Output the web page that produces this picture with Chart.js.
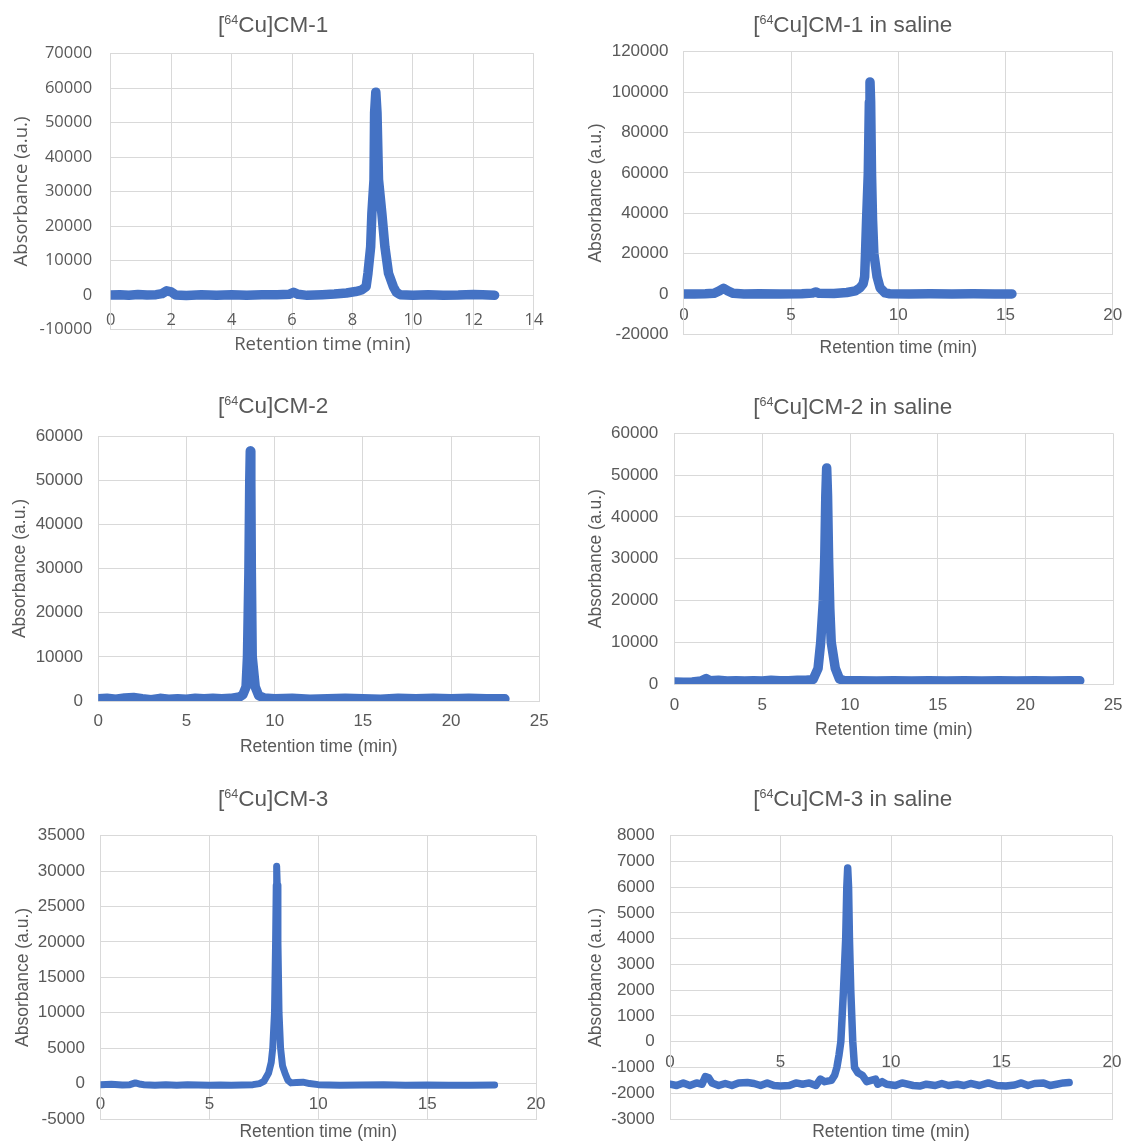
<!DOCTYPE html>
<html lang="en">
<head>
<meta charset="UTF-8">
<title>[64Cu]CM radio-HPLC traces</title>
<script src="https://cdn.jsdelivr.net/npm/chart.js"></script>
<style>
  body { margin: 0; background: #fff; width: 1125px; height: 1145px; position: relative; overflow: hidden; }
  canvas { position: absolute; }
  .title { position: absolute; width: 400px; height: 26px; line-height: 26px; text-align: center;
           font-family: 'Liberation Sans', Arial, sans-serif; font-size: 22.5px; color: #595959; white-space: nowrap; }
  .title sup { font-size: 12.5px; vertical-align: 8px; line-height: 0; }
</style>
</head>
<body>
<canvas id="cm1"></canvas>
<canvas id="cm1s"></canvas>
<canvas id="cm2"></canvas>
<canvas id="cm2s"></canvas>
<canvas id="cm3"></canvas>
<canvas id="cm3s"></canvas>
<script>
// traces: [retention time (min), absorbance (a.u.)]
const cm1Trace = [
  [0, 0], [0.3, 100], [0.6, -100], [0.9, 150], [1.2, 0], [1.5, 100], [1.7, 400], [1.85, 1200], [2.0, 900],
  [2.15, 0], [2.5, -150], [3.0, 50], [3.5, -100], [4.0, 100], [4.5, -50], [5.0, 50], [5.5, 100], [5.9, 200],
  [6.05, 800], [6.2, 200], [6.5, -100], [7.0, 100], [7.4, 300], [7.8, 600], [8.1, 1000], [8.3, 1450],
  [8.45, 2400], [8.51, 6300], [8.6, 14000], [8.64, 23700], [8.71, 33400], [8.73, 52800], [8.77, 58800],
  [8.81, 52800], [8.86, 33400], [8.97, 23700], [9.07, 14000], [9.19, 6300], [9.35, 2400], [9.45, 800],
  [9.57, 100], [10.0, -100], [10.5, 50], [11.0, -50], [11.5, 0], [12.0, 150], [12.3, 100], [12.7, -50]
];
const cm1SalineTrace = [
  [0, 0], [0.5, 0], [1.0, 100], [1.4, 300], [1.65, 1500], [1.85, 2800], [2.05, 1500], [2.3, 300], [2.8, 0],
  [3.5, 100], [4.5, 0], [5.5, 100], [6.0, 400], [6.15, 1000], [6.3, 300], [7.0, 200], [7.6, 700], [8.0, 1500],
  [8.21, 3000], [8.36, 5000], [8.43, 8500], [8.47, 20000], [8.52, 36500], [8.6, 60000], [8.65, 95000],
  [8.68, 105000], [8.71, 95000], [8.75, 60000], [8.8, 36500], [8.86, 20000], [9.01, 8500], [9.15, 3000],
  [9.38, 500], [9.6, 100], [10.5, 0], [11.5, 100], [12.5, 0], [13.5, 100], [14.5, 0], [15.3, 0]
];
const cm2Trace = [
  [0, 500], [0.5, 600], [1.0, 400], [1.5, 700], [2.0, 800], [2.5, 500], [3.0, 300], [3.5, 600], [4.0, 400],
  [4.5, 500], [5.0, 400], [5.5, 600], [6.0, 500], [6.5, 600], [7.0, 500], [7.5, 600], [8.0, 900], [8.2, 1400],
  [8.38, 3200], [8.46, 10000], [8.54, 29000], [8.59, 50000], [8.62, 56600], [8.65, 50000], [8.68, 29000],
  [8.73, 10000], [8.9, 3200], [9.1, 1200], [9.4, 700], [10, 500], [11, 600], [12, 400], [13, 500], [14, 600],
  [15, 500], [16, 400], [17, 600], [18, 500], [19, 600], [20, 500], [21, 600], [22, 500], [23.05, 500]
];
const cm2SalineTrace = [
  [0, 500], [0.5, 400], [1.0, 500], [1.5, 700], [1.8, 1300], [2.0, 800], [2.5, 900], [3.0, 700], [3.5, 800],
  [4.0, 700], [4.5, 800], [5.0, 700], [5.5, 900], [6.0, 800], [6.5, 800], [7.0, 900], [7.5, 900], [7.9, 1100],
  [8.18, 3750], [8.33, 10000], [8.48, 20000], [8.56, 30000], [8.62, 45000], [8.67, 51700], [8.72, 45000],
  [8.78, 30000], [8.85, 18000], [8.93, 10000], [9.16, 3750], [9.4, 1200], [9.7, 800], [10.5, 800], [11.5, 700],
  [12.5, 800], [13.5, 700], [14.5, 800], [15.5, 700], [16.5, 800], [17.5, 700], [18.5, 800], [19.5, 700],
  [20.5, 800], [21.5, 700], [22.5, 800], [23.1, 800]
];
const cm3Trace = [
  [0, -150], [0.5, -100], [1.0, -200], [1.35, -150], [1.6, 100], [1.85, -100], [2.0, -150], [2.5, -250],
  [3.0, -150], [3.5, -250], [4.0, -150], [4.5, -200], [5.0, -250], [5.5, -200], [6.0, -250], [6.5, -200],
  [7.0, -150], [7.3, 0], [7.5, 300], [7.72, 1500], [7.84, 3000], [7.91, 5000], [7.99, 10000], [8.04, 20000],
  [8.07, 28000], [8.09, 30700], [8.12, 28000], [8.15, 20000], [8.2, 10000], [8.27, 5000], [8.36, 2500],
  [8.47, 1500], [8.6, 500], [8.75, 100], [9.0, 150], [9.3, 200], [9.6, 0], [10.0, -150], [10.5, -200],
  [11.0, -250], [12.0, -200], [13.0, -150], [14.0, -250], [15.0, -200], [16.0, -250], [17.0, -250], [18.1, -200]
];
const cm3SalineTrace = [
  [0, -1650], [0.3, -1700], [0.6, -1600], [0.9, -1700], [1.2, -1600], [1.45, -1650], [1.6, -1350], [1.75, -1400],
  [1.9, -1600], [2.2, -1700], [2.5, -1620], [2.8, -1700], [3.1, -1600], [3.5, -1580], [3.8, -1620], [4.1, -1700],
  [4.4, -1600], [4.7, -1700], [5.0, -1720], [5.4, -1700], [5.7, -1600], [6.0, -1650], [6.3, -1600], [6.6, -1700],
  [6.8, -1450], [7.0, -1550], [7.3, -1500], [7.45, -1300], [7.55, -1000], [7.65, -500], [7.73, 0], [7.85, 2000],
  [7.95, 4000], [8.0, 6000], [8.04, 6750], [8.08, 6000], [8.12, 4000], [8.18, 2000], [8.27, 0], [8.35, -1000],
  [8.5, -1200], [8.7, -1300], [8.9, -1550], [9.1, -1500], [9.3, -1450], [9.4, -1650], [9.6, -1550], [9.8, -1650],
  [10.2, -1700], [10.5, -1600], [11.0, -1700], [11.3, -1720], [11.6, -1650], [12.0, -1700], [12.3, -1620],
  [12.6, -1700], [13.0, -1650], [13.3, -1700], [13.6, -1620], [14.0, -1700], [14.4, -1600], [14.8, -1700],
  [15.2, -1720], [15.6, -1680], [15.9, -1600], [16.2, -1700], [16.5, -1620], [16.9, -1600], [17.2, -1700],
  [17.5, -1650], [17.8, -1600], [18.06, -1580]
];

// axis ticks
const cm1TimeTicks = [0, 2, 4, 6, 8, 10, 12, 14];
const cm1AbsTicks = [-10000, 0, 10000, 20000, 30000, 40000, 50000, 60000, 70000];
const cm1SalineTimeTicks = [0, 5, 10, 15, 20];
const cm1SalineAbsTicks = [-20000, 0, 20000, 40000, 60000, 80000, 100000, 120000];
const cm2TimeTicks = [0, 5, 10, 15, 20, 25];
const cm2AbsTicks = [0, 10000, 20000, 30000, 40000, 50000, 60000];
const cm3TimeTicks = [0, 5, 10, 15, 20];
const cm3AbsTicks = [-5000, 0, 5000, 10000, 15000, 20000, 25000, 30000, 35000];
const cm3SalineAbsTicks = [-3000, -2000, -1000, 0, 1000, 2000, 3000, 4000, 5000, 6000, 7000, 8000];

const BLUE = '#4472C4';
const GRID = '#d9d9d9';
const TEXT = '#595959';
const ARIAL = "'Liberation Sans', Arial, sans-serif";
const SEGOE = "'Open Sans', 'Liberation Sans', sans-serif";

Chart.defaults.font.family = ARIAL;
Chart.defaults.color = TEXT;

// where each panel sits in the page (pixels)
const panels = [
  { id: 'cm1', title: '[<sup>64</sup>Cu]CM-1', trace: cm1Trace, xTicks: cm1TimeTicks, yTicks: cm1AbsTicks,
    box: { x: 0, y: 0, w: 560, h: 358 }, plot: { left: 110.7, top: 53.5, right: 533.9, bottom: 329.5 },
    titleX: 273.2, titleY: 25, yTitleX: 21.4, xTitleY: 345, yTickRight: 92.1, xTickY: 320,
    tickFont: { family: SEGOE, size: 16.5 }, axisFont: { family: SEGOE, size: 18.5 }, lineWidth: 9.5 },
  { id: 'cm1s', title: '[<sup>64</sup>Cu]CM-1 in saline', trace: cm1SalineTrace, xTicks: cm1SalineTimeTicks, yTicks: cm1SalineAbsTicks,
    box: { x: 560, y: 0, w: 565, h: 360 }, plot: { left: 683.9, top: 51.7, right: 1112.7, bottom: 334.3 },
    titleX: 852.7, titleY: 25, yTitleX: 596.1, xTitleY: 348, yTickRight: 668.4, xTickY: 315,
    tickFont: { size: 17 }, axisFont: { size: 17.5 }, lineWidth: 9.5 },
  { id: 'cm2', title: '[<sup>64</sup>Cu]CM-2', trace: cm2Trace, xTicks: cm2TimeTicks, yTicks: cm2AbsTicks,
    box: { x: 0, y: 375, w: 560, h: 385 }, plot: { left: 98.2, top: 436, right: 539.3, bottom: 701 },
    titleX: 273.2, titleY: 406, yTitleX: 20.4, xTitleY: 746.7, yTickRight: 82.9, xTickY: 721.7,
    tickFont: { size: 17 }, axisFont: { size: 17.5 }, lineWidth: 9.5 },
  { id: 'cm2s', title: '[<sup>64</sup>Cu]CM-2 in saline', trace: cm2SalineTrace, xTicks: cm2TimeTicks, yTicks: cm2AbsTicks,
    box: { x: 560, y: 375, w: 565, h: 368 }, plot: { left: 674.6, top: 433.3, right: 1113.1, bottom: 684 },
    titleX: 852.7, titleY: 406.7, yTitleX: 596.1, xTitleY: 730, yTickRight: 658.3, xTickY: 705,
    tickFont: { size: 17 }, axisFont: { size: 17.5 }, lineWidth: 9.5 },
  { id: 'cm3', title: '[<sup>64</sup>Cu]CM-3', trace: cm3Trace, xTicks: cm3TimeTicks, yTicks: cm3AbsTicks,
    box: { x: 0, y: 765, w: 560, h: 380 }, plot: { left: 100.5, top: 835.7, right: 536, bottom: 1119 },
    titleX: 273.2, titleY: 799.3, yTitleX: 23.2, xTitleY: 1131.7, yTickRight: 85, xTickY: 1104,
    tickFont: { size: 17 }, axisFont: { size: 17.5 }, lineWidth: 7 },
  { id: 'cm3s', title: '[<sup>64</sup>Cu]CM-3 in saline', trace: cm3SalineTrace, xTicks: cm3TimeTicks, yTicks: cm3SalineAbsTicks,
    box: { x: 560, y: 765, w: 565, h: 380 }, plot: { left: 670, top: 835.7, right: 1112, bottom: 1119 },
    titleX: 852.7, titleY: 799.3, yTitleX: 596.1, xTitleY: 1132.3, yTickRight: 654.7, xTickY: 1062.7,
    tickFont: { size: 17 }, axisFont: { size: 17.5 }, lineWidth: 7.5 }
];

function drawPanel(p) {
  const canvas = document.getElementById(p.id);
  const { x: cl, y: ct, w: W, h: H } = p.box;
  canvas.width = W;
  canvas.height = H;
  canvas.style.left = cl + 'px';
  canvas.style.top = ct + 'px';

  // chart title as page text so the 64 can be a real superscript
  const head = document.createElement('div');
  head.className = 'title';
  head.innerHTML = p.title;
  head.style.left = (p.titleX - 200) + 'px';
  head.style.top = (p.titleY - 13) + 'px';
  document.body.appendChild(head);

  const axSize = p.axisFont.size;
  const xTitlePadTop = p.xTitleY - p.plot.bottom - axSize / 2;
  const xTitlePadBottom = (ct + H) - p.plot.bottom - xTitlePadTop - axSize;
  const yTitlePadTop = p.yTitleX - cl - axSize / 2;
  const yWidth = p.plot.left - cl;
  const rightWidth = (cl + W) - p.plot.right;

  const xMin = p.xTicks[0], xMax = p.xTicks[p.xTicks.length - 1];
  const yMin = p.yTicks[0], yMax = p.yTicks[p.yTicks.length - 1];
  const zeroY = p.plot.top + (yMax / (yMax - yMin)) * (p.plot.bottom - p.plot.top);
  const tickLh = p.tickFont.size * 1.2;
  const xTickPad = p.xTickY - zeroY - tickLh / 2;

  const tickFont = Object.assign({ lineHeight: 1.2 }, p.tickFont);
  const axisFont = Object.assign({ lineHeight: 1 }, p.axisFont);

  new Chart(canvas, {
    type: 'line',
    data: {
      datasets: [{
        data: p.trace.map(pt => ({ x: pt[0], y: pt[1] })),
        borderColor: BLUE,
        backgroundColor: BLUE,
        borderWidth: p.lineWidth,
        borderJoinStyle: 'round',
        borderCapStyle: 'round',
        pointRadius: 0,
        tension: 0,
        fill: false
      }]
    },
    options: {
      responsive: false,
      animation: false,
      devicePixelRatio: 1,
      layout: { padding: { left: 0, right: 0, top: p.plot.top - ct, bottom: 0 } },
      plugins: {
        legend: { display: false },
        tooltip: { enabled: false },
        title: { display: false }
      },
      scales: {
        x: {
          type: 'linear',
          position: 'bottom',
          min: xMin,
          max: xMax,
          ticks: { display: false, stepSize: p.xTicks[1] - p.xTicks[0] },
          grid: { color: GRID, drawTicks: false },
          border: { color: GRID },
          title: {
            display: true,
            text: 'Retention time (min)',
            color: TEXT,
            font: axisFont,
            padding: { top: xTitlePadTop, bottom: xTitlePadBottom }
          }
        },
        // tick labels hang under the zero line, as in the original
        xz: {
          type: 'linear',
          axis: 'x',
          position: { y: 0 },
          min: xMin,
          max: xMax,
          ticks: { stepSize: p.xTicks[1] - p.xTicks[0], padding: xTickPad, color: TEXT, font: tickFont,
                   callback: v => String(v) },
          grid: { display: false, drawTicks: false },
          border: { display: false },
          afterFit: s => { s.paddingLeft = 0; s.paddingRight = 0; }
        },
        y: {
          type: 'linear',
          position: 'left',
          min: yMin,
          max: yMax,
          ticks: { stepSize: p.yTicks[1] - p.yTicks[0], padding: p.plot.left - p.yTickRight, color: TEXT,
                   font: tickFont, callback: v => String(v) },
          grid: { color: GRID, drawTicks: false },
          border: { color: GRID },
          title: {
            display: true,
            text: 'Absorbance (a.u.)',
            color: TEXT,
            font: axisFont,
            padding: { top: yTitlePadTop, bottom: 0 }
          },
          afterFit: s => { s.width = yWidth; }
        },
        yr: {
          type: 'linear',
          axis: 'y',
          position: 'right',
          min: yMin,
          max: yMax,
          ticks: { display: false },
          grid: { display: false, drawTicks: false },
          border: { display: false },
          afterFit: s => { s.width = rightWidth; }
        }
      }
    }
  });
}

panels.forEach(drawPanel);
</script>
</body>
</html>
